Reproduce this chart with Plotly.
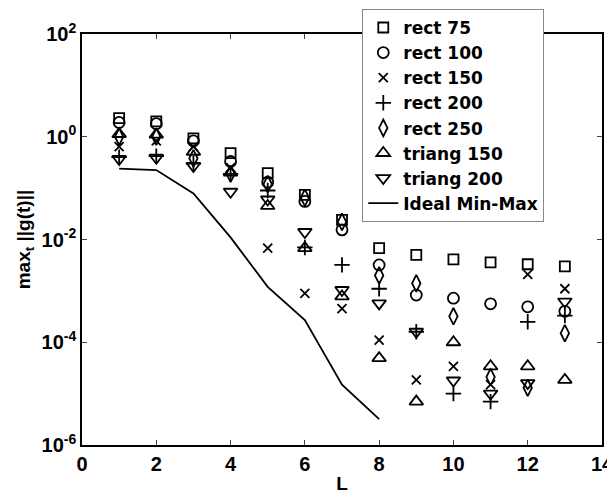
import plotly.graph_objects as go

L_markers = [1, 2, 3, 4, 5, 6, 7, 8, 9, 10, 11, 12, 13]
rect75 = [2.3, 2.0, 0.93, 0.48, 0.195, 0.074, 0.024, 0.0068, 0.0050, 0.0041, 0.0036, 0.0033, 0.0030]
rect100 = [1.9, 1.8, 0.83, 0.33, 0.13, 0.055, 0.0154, 0.0032, 8.3e-4, 7.2e-4, 5.6e-4, 4.9e-4, 4.0e-4]
rect150 = [0.64, 0.83, 0.64, 0.25, 0.0068, 8.9e-4, 4.5e-4, 1.1e-4, 1.85e-5, 3.4e-5, 1.5e-5, 0.0021, 0.0011]
rect200 = [0.40, 0.42, 0.30, 0.19, 0.09, 0.007, 0.0032, 0.0011, 1.6e-4, 1.0e-5, 7e-6, 2.5e-4, 3.3e-4]
rect250 = [1.0, 1.0, 0.38, 0.19, 0.12, 0.065, 0.022, 0.0020, 0.0014, 3.2e-4, 2.1e-5, 1.3e-5, 1.5e-4]
triang150 = [1.13, 1.1, 0.51, 0.20, 0.045, 0.0068, 7.8e-4, 4.9e-5, 7e-6, 1.0e-4, 3.4e-5, 3.4e-5, 1.85e-5]
triang200 = [0.37, 0.39, 0.27, 0.085, 0.06, 0.014, 0.00104, 5.7e-4, 1.6e-4, 1.8e-5, 1.0e-5, 1.6e-5, 6.2e-4]

L_ideal = [1, 2, 3, 4, 5, 6, 7, 8]
ideal = [0.24, 0.225, 0.079, 0.011, 0.0012, 2.7e-4, 1.5e-5, 3.2e-6]

x_ticks = [0, 2, 4, 6, 8, 10, 12, 14]
y_tickvals = [1e-6, 1e-4, 1e-2, 1, 1e2]
y_ticktext = ["10<sup>-6</sup>", "10<sup>-4</sup>", "10<sup>-2</sup>", "10<sup>0</sup>", "10<sup>2</sup>"]

series = [
    ("rect 75", rect75, "square-open", 10),
    ("rect 100", rect100, "circle-open", 11),
    ("rect 150", rect150, "x-thin-open", 9),
    ("rect 200", rect200, "cross-thin-open", 11),
    ("rect 250", rect250, "diamond-tall-open", 12),
    ("triang 150", triang150, "triangle-up-open", 12),
    ("triang 200", triang200, "triangle-down-open", 12),
]

fig = go.Figure()
for name, vals, sym, size in series:
    fig.add_trace(go.Scatter(
        x=L_markers, y=vals, mode="markers", name=name,
        marker=dict(symbol=sym, size=size, color="black",
                    line=dict(color="black", width=1.8)),
    ))
fig.add_trace(go.Scatter(
    x=L_ideal, y=ideal, mode="lines", name="Ideal Min-Max",
    line=dict(color="black", width=1.8),
))

font = dict(family="Liberation Sans, Arial, sans-serif", size=20, color="black", weight="bold")
legend_font = dict(family="DejaVu Sans, sans-serif", size=17, color="black", weight="bold")
title_font = dict(family="Liberation Sans, Arial, sans-serif", size=19, color="black", weight="bold")

# the page body adds an 8 px offset, so the figure is sized to fit inside the window
fig.update_layout(
    width=607, height=486,
    margin=dict(l=73.5, r=13, t=26, b=49, autoexpand=False),
    paper_bgcolor="white", plot_bgcolor="white",
    font=font,
    showlegend=True,
    legend=dict(
        x=0.539, y=1.061, xanchor="left", yanchor="top",
        bgcolor="white", bordercolor="#888888", borderwidth=1,
        font=legend_font, tracegroupgap=0, itemwidth=30,
    ),
    xaxis=dict(
        range=[0, 14], tickvals=x_ticks, ticks="inside", ticklen=5,
        showline=True, linecolor="black", linewidth=1.5, mirror="ticks",
        showgrid=False, zeroline=False, tickfont=font,
        title=dict(text="L", font=title_font, standoff=4),
    ),
    yaxis=dict(
        type="log", range=[-6, 2], tickvals=y_tickvals, ticktext=y_ticktext,
        ticks="inside", ticklen=5,
        showline=True, linecolor="black", linewidth=1.5, mirror="ticks",
        showgrid=False, zeroline=False, tickfont=font,
        title=dict(text="max<sub>t</sub> ||g(t)||", font=title_font, standoff=6),
    ),
)

fig.write_html("out.html")
